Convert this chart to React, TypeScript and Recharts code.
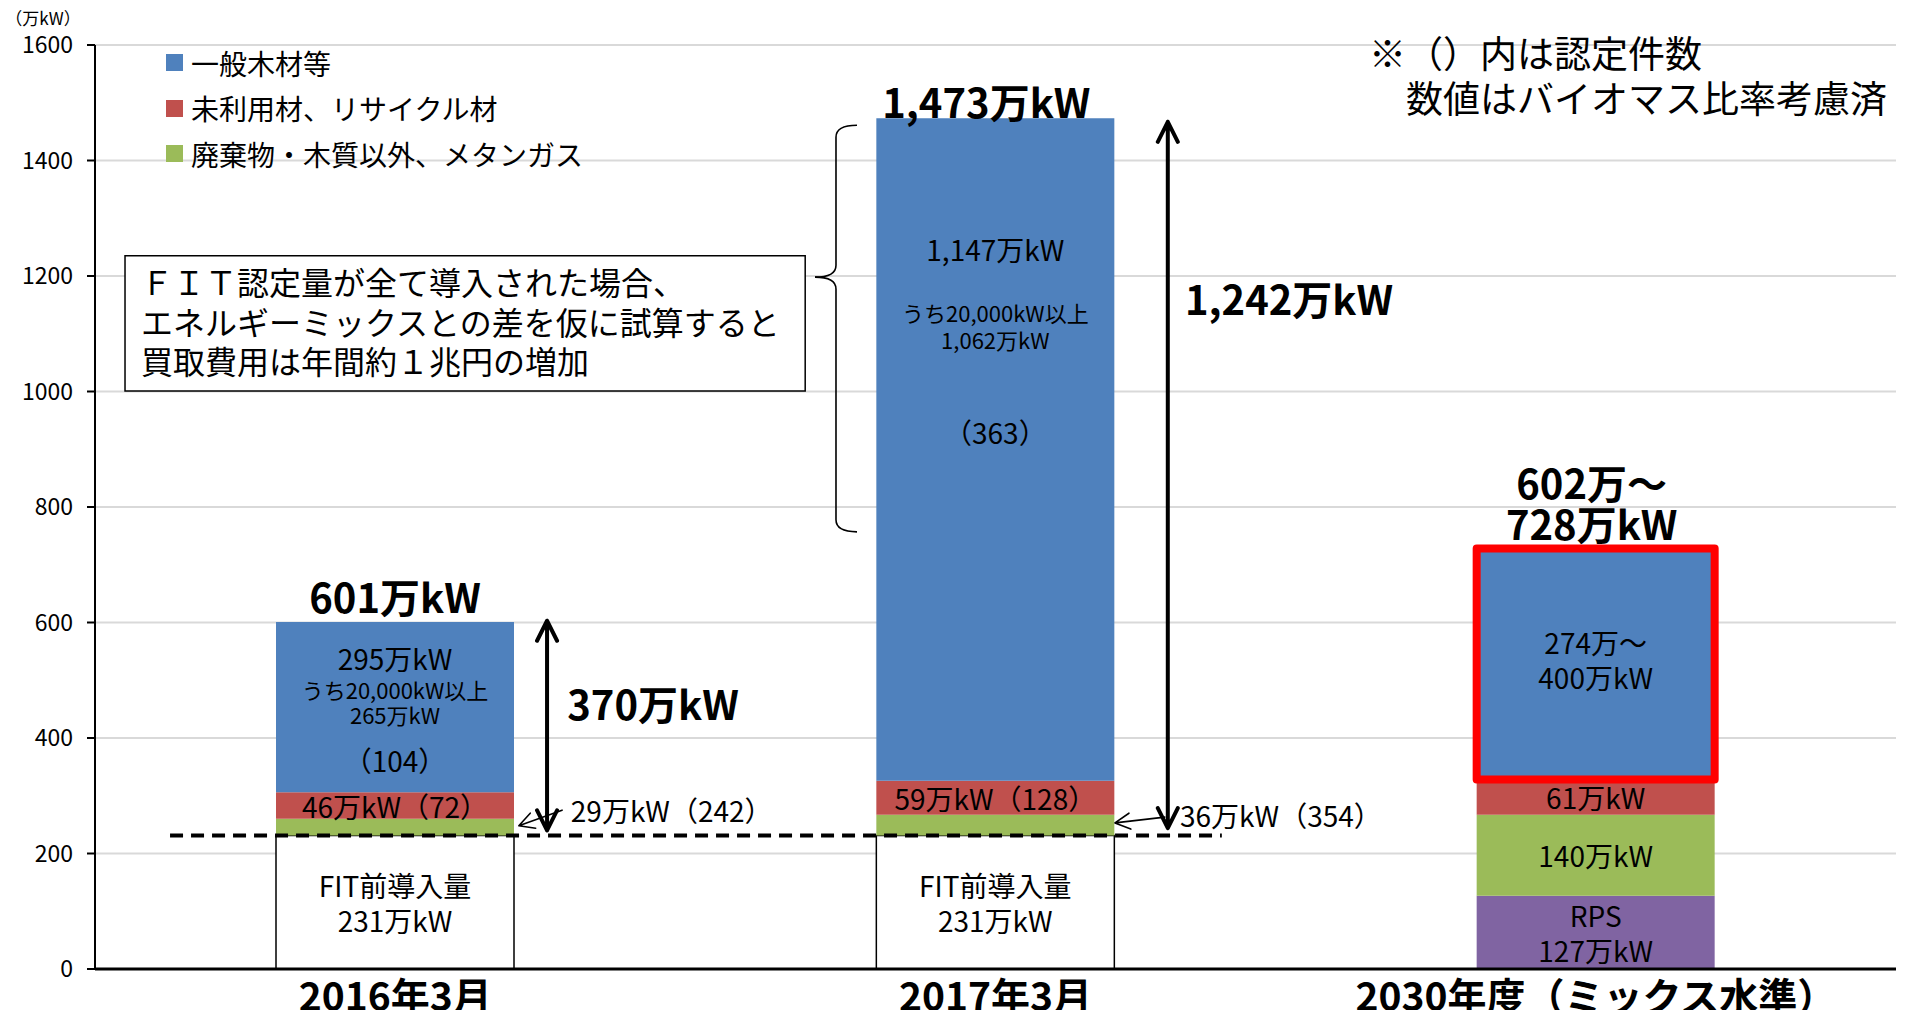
import React from 'react';
import {
  BarChart, Bar, XAxis, YAxis, CartesianGrid, Legend, LabelList, Cell,
  ReferenceLine, ReferenceDot, ReferenceArea,
} from 'recharts';

// ---------------- data ----------------
const categories = ['2016年3月', '2017年3月', '2030年度（ミックス水準）'];
const baseValues = [231, 231, 0];      // FIT前導入量
const rpsValues = [0, 0, 127];         // RPS
const wasteValues = [29, 36, 140];     // 廃棄物・木質以外、メタンガス
const unusedValues = [46, 59, 61];     // 未利用材、リサイクル材
const generalValues = [295, 1147, 400]; // 一般木材等
const yTicks = [0, 200, 400, 600, 800, 1000, 1200, 1400, 1600];

const legendNames = ['一般木材等', '未利用材、リサイクル材', '廃棄物・木質以外、メタンガス'];

const baseLabels = [['FIT前導入量', '231万kW'], ['FIT前導入量', '231万kW'], []];
const rpsLabels = [[], [], ['RPS', '127万kW']];
const wasteLabels = [[], [], ['140万kW']];
const unusedLabels = [['46万kW（72）'], ['59万kW（128）'], ['61万kW']];
const generalLabels = [
  ['295万kW', 'うち20,000kW以上', '265万kW', '（104）'],
  ['1,147万kW', 'うち20,000kW以上', '1,062万kW', '（363）'],
  ['274万～', '400万kW'],
];
const totalLabels = [['601万kW'], ['1,473万kW'], ['602万～', '728万kW']];
const diffLabels = ['370万kW', '1,242万kW'];
const smallLabels = ['29万kW（242）', '36万kW（354）'];
const noteLines = ['※（）内は認定件数', '　数値はバイオマス比率考慮済'];
const boxLines = ['ＦＩＴ認定量が全て導入された場合、', 'エネルギーミックスとの差を仮に試算すると', '買取費用は年間約１兆円の増加'];
const unitLabel = '（万kW）';

// ---------------- styles ----------------
const FONT = '"Noto Sans CJK JP", "Noto Sans", sans-serif';
const W = 1906;
const H = 1010;
const C_BLUE = '#4F81BD';
const C_RED = '#C0504D';
const C_GREEN = '#9BBB59';
const C_PURPLE = '#8064A2';
const legendColors = [C_BLUE, C_RED, C_GREEN];
const POS = 'pos';
// hidden helper axis spans the plot with domain [0, 2]; u is in "category band" units (0..3)
const cu = (u: number) => (u * 2) / 3;

const data = categories.map((name, i) => ({
  name,
  idx: i,
  base: baseValues[i],
  rps: rpsValues[i],
  waste: wasteValues[i],
  unused: unusedValues[i],
  general: generalValues[i],
  baseText: baseLabels[i].join('\n'),
  rpsText: rpsLabels[i].join('\n'),
  wasteText: wasteLabels[i].join('\n'),
  unusedText: unusedLabels[i].join('\n'),
  generalText: generalLabels[i].join('\n'),
  totalText: totalLabels[i].join('\n'),
}));

const getBox = (p: any) => {
  const vb = p.viewBox && typeof p.viewBox.width === 'number' ? p.viewBox : p;
  return { x: Number(vb.x), y: Number(vb.y), w: Number(vb.width), h: Number(vb.height) };
};
const splitVal = (v: any): string[] => (typeof v === 'string' && v.length ? v.split('\n') : []);
const catIndex = (b: { x: number; w: number }) => {
  const i = categories.length ? Math.round(((b.x + b.w / 2) - 95) / ((W - 10 - 95) / categories.length) - 0.5) : 0;
  return Math.max(0, Math.min(categories.length - 1, i));
};

const centeredLines = (size: number, gap: number) => (p: any) => {
  const ls = splitVal(p.value);
  if (!ls.length) return null;
  const b = getBox(p);
  if (!(b.h > 0)) return null;
  const cx = b.x + b.w / 2;
  const cy = b.y + b.h / 2;
  const start = cy - ((ls.length - 1) * gap) / 2;
  return (
    <g>
      {ls.map((t, k) => (
        <text key={k} x={cx} y={start + k * gap} textAnchor="middle" dominantBaseline="central"
          fontSize={size} fill="#000" fontFamily={FONT}>{t}</text>
      ))}
    </g>
  );
};

// layout of the labels inside the blue segments (offset from segment top, font size)
const generalLayout = [
  { off: [36, 67, 92, 138], size: [28, 22, 22, 28] },
  { off: [131, 194, 221, 314], size: [28, 22, 22, 28] },
  { off: [93, 128], size: [28, 28] },
];
const GeneralLabel = (p: any) => {
  const ls = splitVal(p.value);
  const b = getBox(p);
  const lay = generalLayout[catIndex(b)];
  if (!ls.length || !lay) return null;
  const cx = b.x + b.w / 2;
  return (
    <g>
      {ls.map((t, k) => (
        <text key={k} x={cx} y={b.y + lay.off[k]} textAnchor="middle" dominantBaseline="central"
          fontSize={lay.size[k]} fill="#000" fontFamily={FONT}>{t}</text>
      ))}
    </g>
  );
};

const totalLayout = [{ dy: -26, dx: 0 }, { dy: -17, dx: -9 }, { dy: -26, dx: -4 }];
const TotalLabel = (p: any) => {
  const ls = splitVal(p.value);
  const b = getBox(p);
  const lay = totalLayout[catIndex(b)];
  if (!ls.length || !lay) return null;
  const cx = b.x + b.w / 2 + lay.dx;
  const last = b.y + lay.dy;
  const gap = 41;
  return (
    <g>
      {ls.map((t, k) => (
        <text key={k} x={cx} y={last - (ls.length - 1 - k) * gap} textAnchor="middle" dominantBaseline="central"
          fontSize={40} fontWeight={700} fill="#000" fontFamily={FONT}>{t}</text>
      ))}
    </g>
  );
};

const textShape = (lines: string[], size: number, opts: { anchor?: string; bold?: boolean; gap?: number } = {}) => (p: any) => (
  <g>
    {lines.map((t, k) => (
      <text key={k} x={p.cx} y={p.cy + k * (opts.gap || 0)} textAnchor={(opts.anchor as any) || 'middle'}
        dominantBaseline="central" fontSize={size} fontWeight={opts.bold ? 700 : 400}
        fill="#000" fontFamily={FONT} style={{ whiteSpace: 'pre' }}>{t}</text>
    ))}
  </g>
);

const arrowShape = (both: boolean, sw: number, len: number, half: number) => (p: any) => {
  const { x1, y1, x2, y2 } = p;
  const head = (tx: number, ty: number, fx: number, fy: number) => {
    const dx = tx - fx;
    const dy = ty - fy;
    const L = Math.hypot(dx, dy) || 1;
    const ux = dx / L;
    const uy = dy / L;
    const bx = tx - ux * len;
    const by = ty - uy * len;
    const px = -uy;
    const py = ux;
    return `M${bx + px * half},${by + py * half} L${tx},${ty} L${bx - px * half},${by - py * half}`;
  };
  let d = `M${x1},${y1} L${x2},${y2} ` + head(x2, y2, x1, y1);
  if (both) d += ' ' + head(x1, y1, x2, y2);
  return <path d={d} fill="none" stroke="#000" strokeWidth={sw} strokeLinecap="round" strokeLinejoin="round" />;
};

const halfBrace = (p: any) => {
  const { x1, y1, x2, y2 } = p;
  const s = y2 > y1 ? 1 : -1;
  const d = `M${x1 + 21},${y1} Q${x1},${y1} ${x1},${y1 + s * 12} L${x2},${y2 - s * 12} Q${x2},${y2} ${x2 - 21},${y2}`;
  return <path d={d} fill="none" stroke="#000" strokeWidth={1.6} />;
};

const LegendContent = () => (
  <div style={{ fontFamily: FONT, color: '#000' }}>
    {legendNames.map((n, i) => (
      <div key={i} style={{ display: 'flex', alignItems: 'center', height: 45.5, fontSize: 28, whiteSpace: 'nowrap' }}>
        <span style={{ display: 'inline-block', width: 17, height: 17, background: legendColors[i], marginRight: 8 }} />
        {n}
      </div>
    ))}
  </div>
);

export default function App() {
  return (
    <div style={{ position: 'absolute', left: 0, top: 0, width: W, height: H, fontFamily: FONT, background: '#fff' }}>
      <BarChart width={W} height={H} data={data} margin={{ top: 45, right: 10, bottom: 0, left: 0 }}
        barSize={238} style={{ fontFamily: FONT }}>
        <CartesianGrid vertical={false} stroke="#D9D9D9" strokeWidth={2} />
        <XAxis dataKey="name" height={41} axisLine={{ stroke: '#000', strokeWidth: 3 }} tickLine={false}
          tickMargin={8} tick={{ fontSize: 39, fontWeight: 700, fill: '#000' }} interval={0} />
        <XAxis xAxisId={POS} type="number" domain={[0, 2]} allowDataOverflow hide />
        <YAxis width={95} domain={[0, 1600]} ticks={yTicks} interval={0}
          axisLine={{ stroke: '#000', strokeWidth: 2 }} tickLine={{ stroke: '#000', strokeWidth: 2 }}
          tickSize={8} tickMargin={14} tick={{ fontSize: 23, fill: '#000' }} />
        <Legend layout="horizontal" verticalAlign="middle" align="center"
          wrapperStyle={{ left: 166, top: 40, width: 520, height: 140 }} content={LegendContent} />

        <ReferenceArea xAxisId={POS} x1={cu(0.05)} x2={cu(1.183)} y1={1001} y2={1235}
          fill="#fff" fillOpacity={1} stroke="#000" strokeWidth={1.5} ifOverflow="visible" />

        <Bar dataKey="base" stackId="a" fill="#fff" stroke="#000" strokeWidth={1.5} isAnimationActive={false}>
          <LabelList dataKey="baseText" content={centeredLines(28, 35)} />
        </Bar>
        <Bar dataKey="rps" stackId="a" fill={C_PURPLE} isAnimationActive={false}>
          <LabelList dataKey="rpsText" content={centeredLines(28, 35)} />
        </Bar>
        <Bar dataKey="waste" stackId="a" fill={C_GREEN} isAnimationActive={false}>
          <LabelList dataKey="wasteText" content={centeredLines(28, 35)} />
        </Bar>
        <Bar dataKey="unused" stackId="a" fill={C_RED} isAnimationActive={false}>
          <LabelList dataKey="unusedText" content={centeredLines(28, 35)} />
        </Bar>
        <Bar dataKey="general" stackId="a" fill={C_BLUE} isAnimationActive={false}>
          {data.map((d, i) => (
            <Cell key={i} fill={C_BLUE}
              stroke={i === 2 ? '#FF0000' : 'none'} strokeWidth={i === 2 ? 8 : 0} strokeLinejoin="round" />
          ))}
          <LabelList dataKey="generalText" content={GeneralLabel} />
          <LabelList dataKey="totalText" content={TotalLabel} />
        </Bar>

        {/* dashed line at FIT-before level */}
        <ReferenceLine xAxisId={POS} segment={[{ x: cu(0.125), y: 231 }, { x: cu(1.877), y: 231 }]}
          stroke="#000" strokeWidth={4} strokeDasharray="13 8" ifOverflow="visible" />

        {/* big double arrows */}
        <ReferenceLine xAxisId={POS} segment={[{ x: cu(0.753), y: 240 }, { x: cu(0.753), y: 603 }]}
          shape={arrowShape(true, 4, 20, 10)} ifOverflow="visible" />
        <ReferenceLine xAxisId={POS} segment={[{ x: cu(1.787), y: 244 }, { x: cu(1.787), y: 1467 }]}
          shape={arrowShape(true, 4, 20, 10)} ifOverflow="visible" />

        {/* small pointer arrows */}
        <ReferenceLine xAxisId={POS} segment={[{ x: cu(0.778), y: 275 }, { x: cu(0.706), y: 248 }]}
          shape={arrowShape(false, 1.6, 15, 8)} ifOverflow="visible" />
        <ReferenceLine xAxisId={POS} segment={[{ x: cu(1.782), y: 263 }, { x: cu(1.699), y: 253 }]}
          shape={arrowShape(false, 1.6, 15, 8)} ifOverflow="visible" />

        {/* brace */}
        <ReferenceLine xAxisId={POS} segment={[{ x: cu(1.2343), y: 1461 }, { x: cu(1.2343), y: 1198 }]}
          shape={halfBrace} ifOverflow="visible" />
        <ReferenceLine xAxisId={POS} segment={[{ x: cu(1.2343), y: 757 }, { x: cu(1.2343), y: 1198 }]}
          shape={halfBrace} ifOverflow="visible" />

        {/* texts */}
        <ReferenceDot xAxisId={POS} x={cu(-0.0866)} y={1647} r={0} ifOverflow="visible"
          shape={textShape([unitLabel], 17)} />
        <ReferenceDot xAxisId={POS} x={cu(0.9295)} y={461} r={0} ifOverflow="visible"
          shape={textShape([diffLabels[0]], 40, { bold: true })} />
        <ReferenceDot xAxisId={POS} x={cu(1.989)} y={1162} r={0} ifOverflow="visible"
          shape={textShape([diffLabels[1]], 40, { bold: true })} />
        <ReferenceDot xAxisId={POS} x={cu(0.7926)} y={276} r={0} ifOverflow="visible"
          shape={textShape([smallLabels[0]], 28, { anchor: 'start' })} />
        <ReferenceDot xAxisId={POS} x={cu(1.8074)} y={267} r={0} ifOverflow="visible"
          shape={textShape([smallLabels[1]], 28, { anchor: 'start' })} />
        <ReferenceDot xAxisId={POS} x={cu(2.1222)} y={1588} r={0} ifOverflow="visible"
          shape={textShape(noteLines, 37, { anchor: 'start', gap: 45 })} />
        <ReferenceDot xAxisId={POS} x={cu(0.0766)} y={1191} r={0} ifOverflow="visible"
          shape={textShape(boxLines, 32, { anchor: 'start', gap: 39.5 })} />
      </BarChart>
    </div>
  );
}
